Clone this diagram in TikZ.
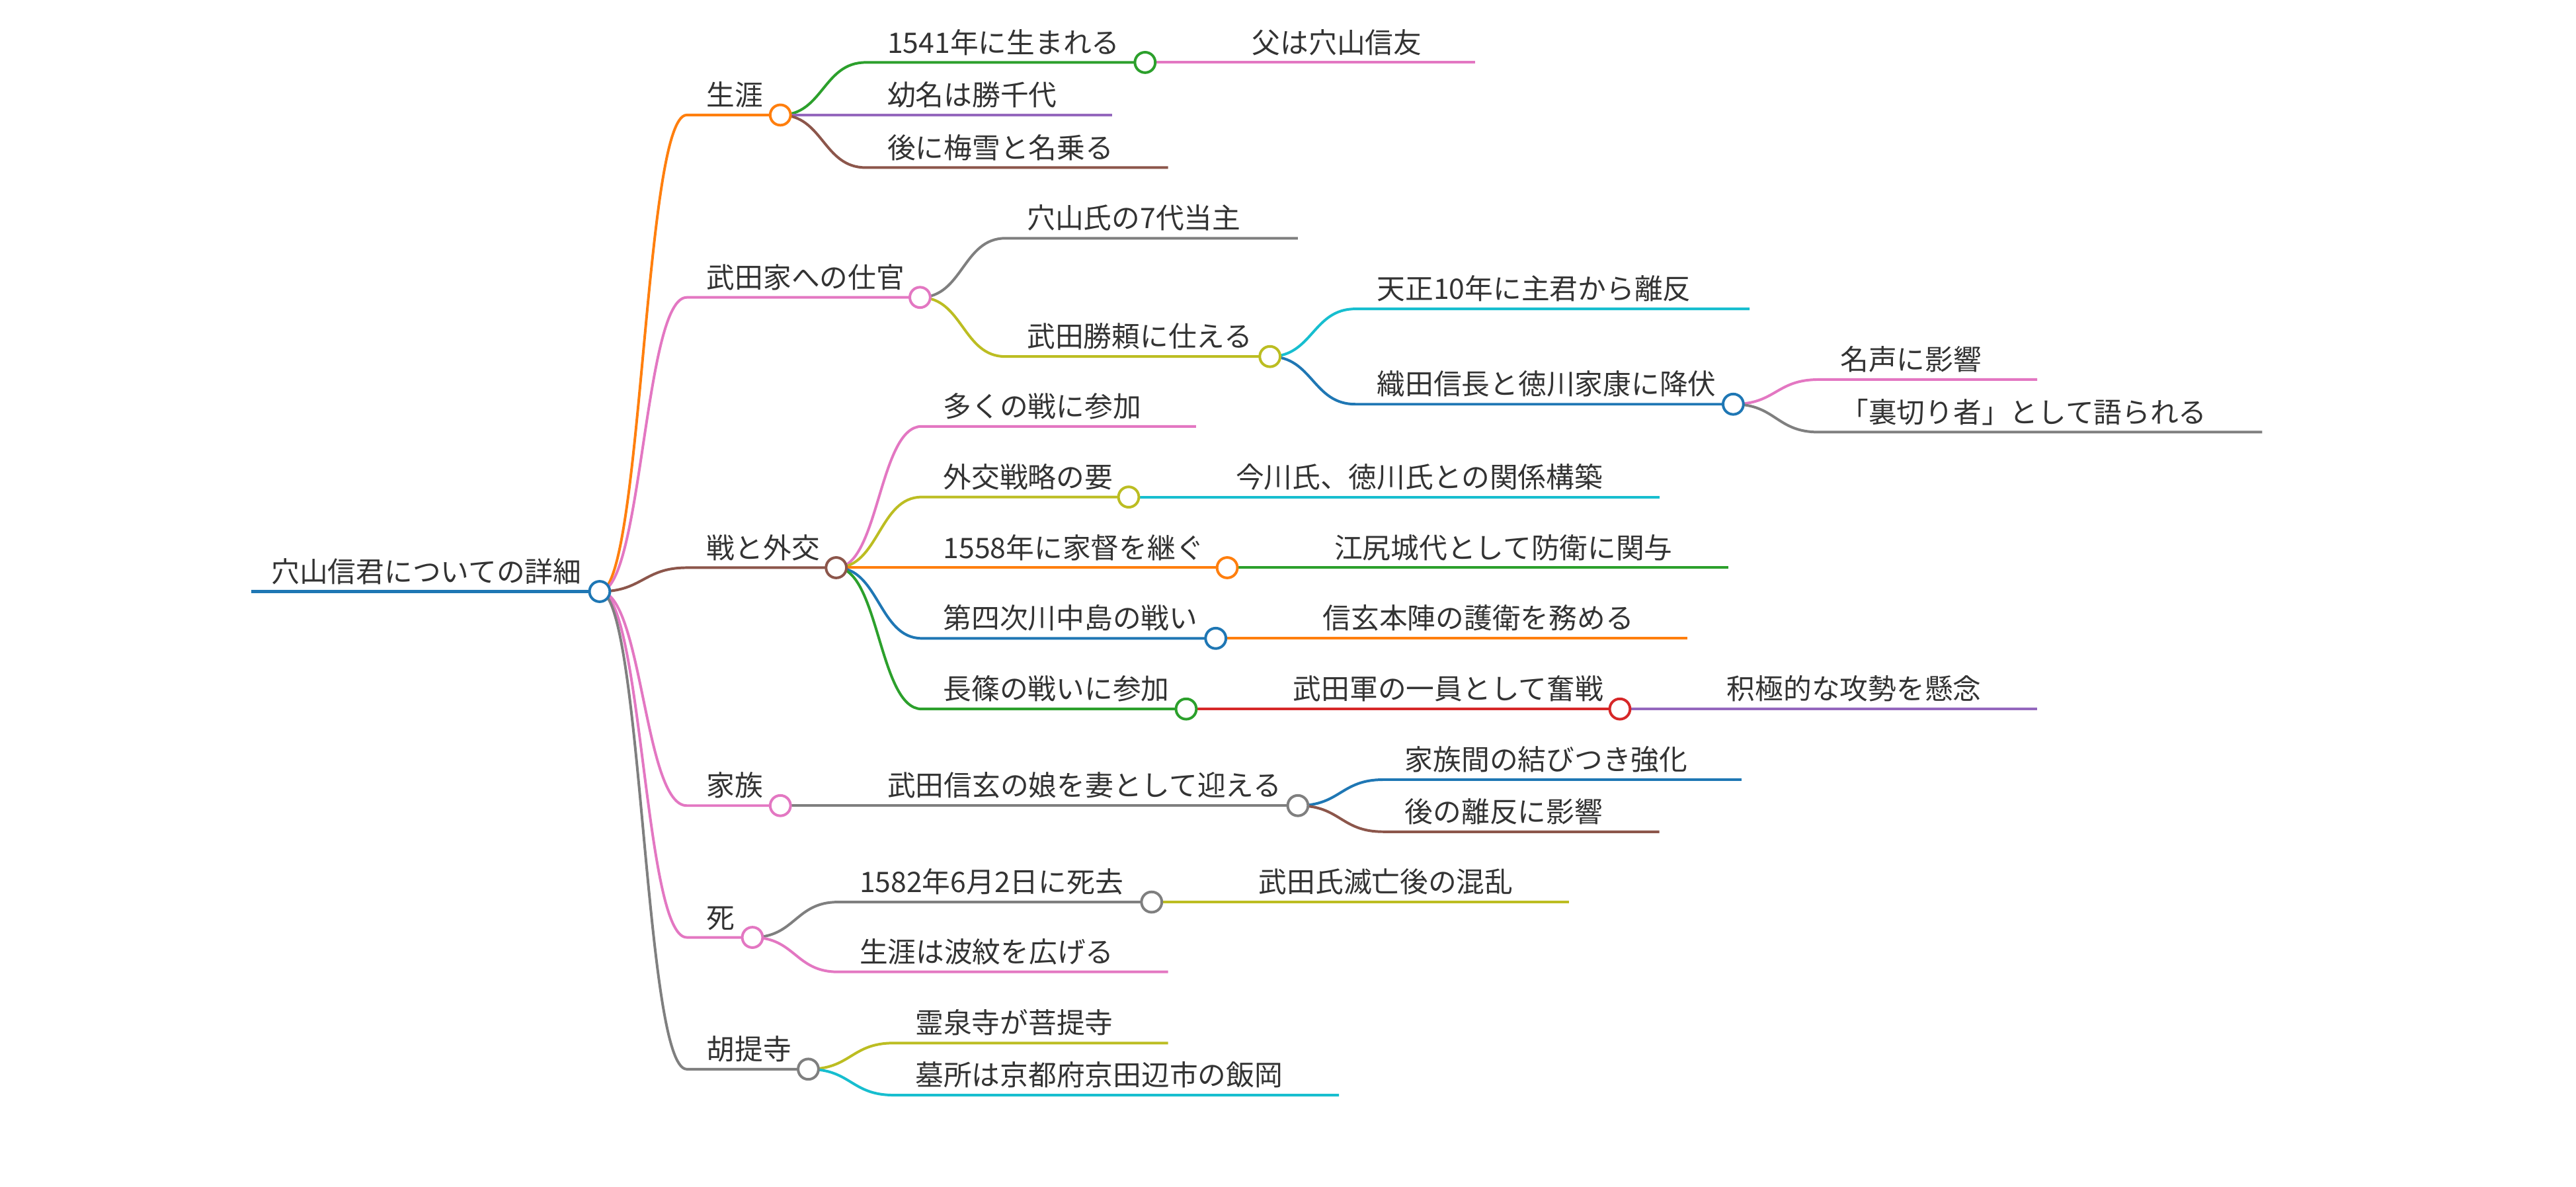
\documentclass[tikz,border=0pt]{standalone}
\usepackage{fontspec}
\newfontfamily\jpfont{Noto Sans CJK JP}
\definecolor{mmblue}{RGB}{31, 119, 180}
\definecolor{mmorange}{RGB}{255, 127, 14}
\definecolor{mmgreen}{RGB}{44, 160, 44}
\definecolor{mmred}{RGB}{214, 39, 40}
\definecolor{mmpurple}{RGB}{148, 103, 189}
\definecolor{mmbrown}{RGB}{140, 86, 75}
\definecolor{mmpink}{RGB}{227, 119, 194}
\definecolor{mmgray}{RGB}{127, 127, 127}
\definecolor{mmolive}{RGB}{188, 189, 34}
\definecolor{mmcyan}{RGB}{23, 190, 207}
\definecolor{ink}{RGB}{51, 51, 51}
\tikzset{
  lbl/.style={anchor=base west, inner sep=0pt, yshift=5.8pt, text=ink, font=\jpfont\fontsize{17.2}{20}\selectfont},
  br/.style={draw=#1, line width=1.6pt},
  dot/.style={circle, draw=#1, fill=white, line width=1.6pt, minimum size=12.4pt, inner sep=0pt}
}

\begin{document}
\begin{tikzpicture}[x=1pt, y=-1pt]
  \useasboundingbox (0,0) rectangle (1568,722.4);

  % root
  \coordinate (s-root) at (153,360); \coordinate (e-root) at (365,360);
  \node[lbl] (root) at (165,360) {穴山信君についての詳細};

  % 生涯
  \coordinate (s-life) at (418,70); \coordinate (e-life) at (475,70);
  \node[lbl] (life) at (430,70) {生涯};
  \coordinate (s-birth) at (527,38); \coordinate (e-birth) at (697,38);
  \node[lbl] (birth) at (540,38) {1541年に生まれる};
  \coordinate (s-father) at (749,38); \coordinate (e-father) at (898,38);
  \node[lbl] (father) at (762,38) {父は穴山信友};
  \coordinate (s-child) at (527,70); \coordinate (e-child) at (677,70);
  \node[lbl] (child) at (540,70) {幼名は勝千代};
  \coordinate (s-baisetsu) at (527,102); \coordinate (e-baisetsu) at (711,102);
  \node[lbl] (baisetsu) at (540,102) {後に梅雪と名乗る};

  % 武田家への仕官
  \coordinate (s-serve) at (418,181); \coordinate (e-serve) at (560,181);
  \node[lbl] (serve) at (430,181) {武田家への仕官};
  \coordinate (s-head) at (612,145); \coordinate (e-head) at (790,145);
  \node[lbl] (head) at (625,145) {穴山氏の7代当主};
  \coordinate (s-katsu) at (612,217); \coordinate (e-katsu) at (773,217);
  \node[lbl] (katsu) at (625,217) {武田勝頼に仕える};
  \coordinate (s-betray) at (825,188); \coordinate (e-betray) at (1065,188);
  \node[lbl] (betray) at (838,188) {天正10年に主君から離反};
  \coordinate (s-surr) at (825,246); \coordinate (e-surr) at (1055,246);
  \node[lbl] (surr) at (838,246) {織田信長と徳川家康に降伏};
  \coordinate (s-fame) at (1107,231); \coordinate (e-fame) at (1240,231);
  \node[lbl] (fame) at (1120,231) {名声に影響};
  \coordinate (s-traitor) at (1107,263); \coordinate (e-traitor) at (1377,263);
  \node[lbl] (traitor) at (1120,263) {「裏切り者」として語られる};

  % 戦と外交
  \coordinate (s-war) at (418,345.5); \coordinate (e-war) at (509,345.5);
  \node[lbl] (war) at (430,345.5) {戦と外交};
  \coordinate (s-battles) at (561,259.5); \coordinate (e-battles) at (728,259.5);
  \node[lbl] (battles) at (574,259.5) {多くの戦に参加};
  \coordinate (s-diplo) at (561,302.5); \coordinate (e-diplo) at (687,302.5);
  \node[lbl] (diplo) at (574,302.5) {外交戦略の要};
  \coordinate (s-imagawa) at (739,302.5); \coordinate (e-imagawa) at (1010,302.5);
  \node[lbl] (imagawa) at (752,302.5) {今川氏、徳川氏との関係構築};
  \coordinate (s-succ) at (561,345.5); \coordinate (e-succ) at (747,345.5);
  \node[lbl] (succ) at (574,345.5) {1558年に家督を継ぐ};
  \coordinate (s-ejiri) at (799,345.5); \coordinate (e-ejiri) at (1052,345.5);
  \node[lbl] (ejiri) at (812,345.5) {江尻城代として防衛に関与};
  \coordinate (s-kawa) at (561,388.5); \coordinate (e-kawa) at (740,388.5);
  \node[lbl] (kawa) at (574,388.5) {第四次川中島の戦い};
  \coordinate (s-guard) at (792,388.5); \coordinate (e-guard) at (1027,388.5);
  \node[lbl] (guard) at (805,388.5) {信玄本陣の護衛を務める};
  \coordinate (s-naga) at (561,431.5); \coordinate (e-naga) at (722,431.5);
  \node[lbl] (naga) at (574,431.5) {長篠の戦いに参加};
  \coordinate (s-fight) at (774,431.5); \coordinate (e-fight) at (986,431.5);
  \node[lbl] (fight) at (787,431.5) {武田軍の一員として奮戦};
  \coordinate (s-worry) at (1038,431.5); \coordinate (e-worry) at (1240,431.5);
  \node[lbl] (worry) at (1051,431.5) {积極的な攻勢を懸念};

  % 家族
  \coordinate (s-family) at (418,490.3); \coordinate (e-family) at (475,490.3);
  \node[lbl] (family) at (430,490.3) {家族};
  \coordinate (s-wife) at (527,490.3); \coordinate (e-wife) at (790,490.3);
  \node[lbl] (wife) at (540,490.3) {武田信玄の娘を妻として迎える};
  \coordinate (s-bond) at (842,474.5); \coordinate (e-bond) at (1060,474.5);
  \node[lbl] (bond) at (855,474.5) {家族間の結びつき強化};
  \coordinate (s-rift) at (842,506.2); \coordinate (e-rift) at (1010,506.2);
  \node[lbl] (rift) at (855,506.2) {後の離反に影響};

  % 死
  \coordinate (s-death) at (418,570.5); \coordinate (e-death) at (458,570.5);
  \node[lbl] (death) at (430,570.5) {死};
  \coordinate (s-died) at (510,549); \coordinate (e-died) at (701,549);
  \node[lbl] (died) at (523,549) {1582年6月2日に死去};
  \coordinate (s-chaos) at (753,549); \coordinate (e-chaos) at (955,549);
  \node[lbl] (chaos) at (766,549) {武田氏滅亡後の混乱};
  \coordinate (s-ripple) at (510,591.5); \coordinate (e-ripple) at (711,591.5);
  \node[lbl] (ripple) at (523,591.5) {生涯は波紋を広げる};

  % 胡提寺
  \coordinate (s-temple) at (418,650.7); \coordinate (e-temple) at (492,650.7);
  \node[lbl] (temple) at (430,650.7) {胡提寺};
  \coordinate (s-rei) at (544,634.8); \coordinate (e-rei) at (711,634.8);
  \node[lbl] (rei) at (557,634.8) {霊泉寺が菩提寺};
  \coordinate (s-grave) at (544,666.5); \coordinate (e-grave) at (815,666.5);
  \node[lbl] (grave) at (557,666.5) {墓所は京都府京田辺市の飯岡};

  % branches
  \draw[br=mmblue, line width=2.4pt] (s-root) -- (e-root);
  \draw[br=mmorange] (e-root) .. controls +(26,0) and +(-26,0) .. (s-life) -- (e-life);
  \draw[br=mmpink] (e-root) .. controls +(26,0) and +(-26,0) .. (s-serve) -- (e-serve);
  \draw[br=mmbrown] (e-root) .. controls +(26,0) and +(-26,0) .. (s-war) -- (e-war);
  \draw[br=mmpink] (e-root) .. controls +(26,0) and +(-26,0) .. (s-family) -- (e-family);
  \draw[br=mmpink] (e-root) .. controls +(26,0) and +(-26,0) .. (s-death) -- (e-death);
  \draw[br=mmgray] (e-root) .. controls +(26,0) and +(-26,0) .. (s-temple) -- (e-temple);

  \draw[br=mmgreen] (e-life) .. controls +(26,0) and +(-26,0) .. (s-birth) -- (e-birth);
  \draw[br=mmpink] (e-birth) -- (s-father) -- (e-father);
  \draw[br=mmpurple] (e-life) -- (s-child) -- (e-child);
  \draw[br=mmbrown] (e-life) .. controls +(26,0) and +(-26,0) .. (s-baisetsu) -- (e-baisetsu);

  \draw[br=mmgray] (e-serve) .. controls +(26,0) and +(-26,0) .. (s-head) -- (e-head);
  \draw[br=mmolive] (e-serve) .. controls +(26,0) and +(-26,0) .. (s-katsu) -- (e-katsu);
  \draw[br=mmcyan] (e-katsu) .. controls +(26,0) and +(-26,0) .. (s-betray) -- (e-betray);
  \draw[br=mmblue] (e-katsu) .. controls +(26,0) and +(-26,0) .. (s-surr) -- (e-surr);
  \draw[br=mmpink] (e-surr) .. controls +(26,0) and +(-26,0) .. (s-fame) -- (e-fame);
  \draw[br=mmgray] (e-surr) .. controls +(26,0) and +(-26,0) .. (s-traitor) -- (e-traitor);

  \draw[br=mmpink] (e-war) .. controls +(26,0) and +(-26,0) .. (s-battles) -- (e-battles);
  \draw[br=mmolive] (e-war) .. controls +(26,0) and +(-26,0) .. (s-diplo) -- (e-diplo);
  \draw[br=mmcyan] (e-diplo) -- (s-imagawa) -- (e-imagawa);
  \draw[br=mmorange] (e-war) -- (s-succ) -- (e-succ);
  \draw[br=mmgreen] (e-succ) -- (s-ejiri) -- (e-ejiri);
  \draw[br=mmblue] (e-war) .. controls +(26,0) and +(-26,0) .. (s-kawa) -- (e-kawa);
  \draw[br=mmorange] (e-kawa) -- (s-guard) -- (e-guard);
  \draw[br=mmgreen] (e-war) .. controls +(26,0) and +(-26,0) .. (s-naga) -- (e-naga);
  \draw[br=mmred] (e-naga) -- (s-fight) -- (e-fight);
  \draw[br=mmpurple] (e-fight) -- (s-worry) -- (e-worry);

  \draw[br=mmgray] (e-family) -- (s-wife) -- (e-wife);
  \draw[br=mmblue] (e-wife) .. controls +(26,0) and +(-26,0) .. (s-bond) -- (e-bond);
  \draw[br=mmbrown] (e-wife) .. controls +(26,0) and +(-26,0) .. (s-rift) -- (e-rift);

  \draw[br=mmgray] (e-death) .. controls +(26,0) and +(-26,0) .. (s-died) -- (e-died);
  \draw[br=mmolive] (e-died) -- (s-chaos) -- (e-chaos);
  \draw[br=mmpink] (e-death) .. controls +(26,0) and +(-26,0) .. (s-ripple) -- (e-ripple);

  \draw[br=mmolive] (e-temple) .. controls +(26,0) and +(-26,0) .. (s-rei) -- (e-rei);
  \draw[br=mmcyan] (e-temple) .. controls +(26,0) and +(-26,0) .. (s-grave) -- (e-grave);

  % circles
  \node[dot=mmblue] (c-root) at (e-root) {};
  \node[dot=mmorange] (c-life) at (e-life) {};
  \node[dot=mmgreen] (c-birth) at (e-birth) {};
  \node[dot=mmpink] (c-serve) at (e-serve) {};
  \node[dot=mmolive] (c-katsu) at (e-katsu) {};
  \node[dot=mmblue] (c-surr) at (e-surr) {};
  \node[dot=mmbrown] (c-war) at (e-war) {};
  \node[dot=mmolive] (c-diplo) at (e-diplo) {};
  \node[dot=mmorange] (c-succ) at (e-succ) {};
  \node[dot=mmblue] (c-kawa) at (e-kawa) {};
  \node[dot=mmgreen] (c-naga) at (e-naga) {};
  \node[dot=mmred] (c-fight) at (e-fight) {};
  \node[dot=mmpink] (c-family) at (e-family) {};
  \node[dot=mmgray] (c-wife) at (e-wife) {};
  \node[dot=mmpink] (c-death) at (e-death) {};
  \node[dot=mmgray] (c-died) at (e-died) {};
  \node[dot=mmgray] (c-temple) at (e-temple) {};
\end{tikzpicture}
\end{document}
